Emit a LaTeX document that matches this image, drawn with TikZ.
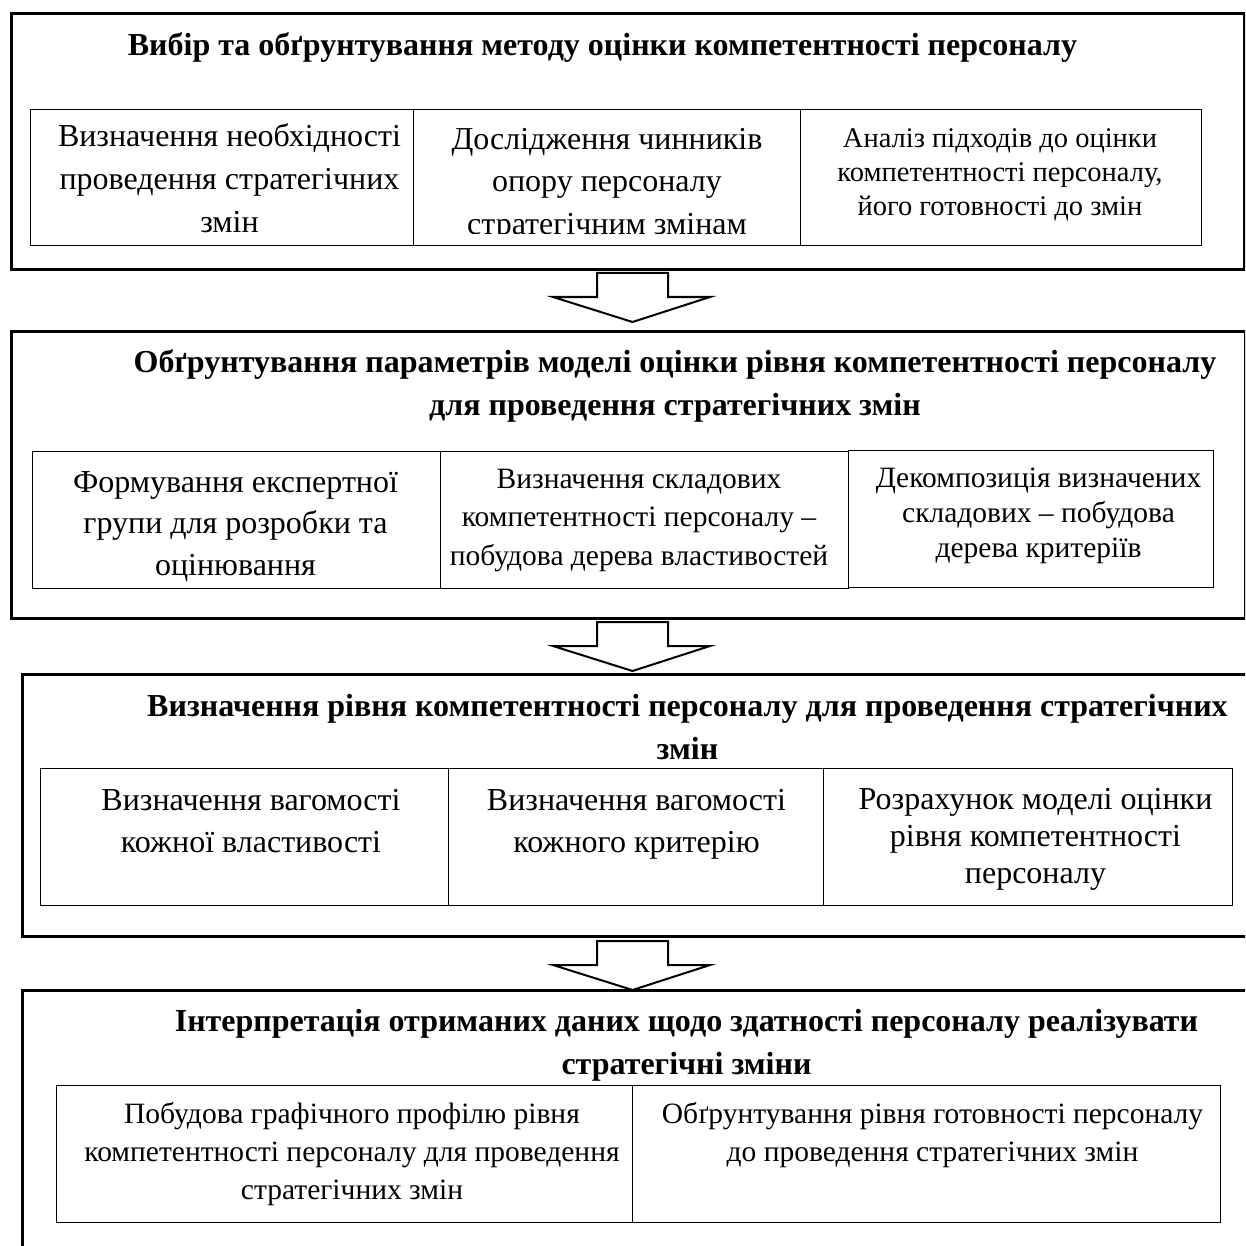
\documentclass[tikz,border=0pt]{standalone}
\usepackage{fontspec}
\setmainfont{Liberation Serif}
\begin{document}
\begin{tikzpicture}[x=1pt,y=-1pt,
  outerbox/.style={draw, line width=3.3pt, inner sep=0pt, anchor=north west},
  cellbox/.style={draw, line width=1.3pt, inner sep=0pt, anchor=north west},
  % text block whose first baseline sits at the given point
  ct/.style 2 args={anchor=north, inner sep=0pt, align=center,
    font=\fontsize{#1}{#2}\selectfont, yshift=0.7*#2pt},
  ht/.style={ct={32}{43}, font=\fontsize{32}{43}\selectfont\bfseries},
  blockarrow/.pic={
    \draw[line width=2pt, line join=miter, fill=white]
      (-35.5,0) -- (35.5,0) -- (35.5,24) -- (77.5,24) -- (0,49)
      -- (-79.5,24) -- (-35.5,24) -- cycle;
  }]
\useasboundingbox (0,0) rectangle (1245,1246);
\clip (0,0) rectangle (1245,1246);

% ---------- stage 1 ----------
\node[outerbox, minimum width=1233pt, minimum height=256pt] (s1) at (10,12) {};
\node[ht] (t1) at (602.5,55) {\strut Вибір та обґрунтування методу оцінки компетентності персоналу};
\node[cellbox, minimum width=383pt, minimum height=136pt] (c11) at (30,109) {};
\node[cellbox, minimum width=387pt, minimum height=136pt] (c12) at (413,109) {};
\node[cellbox, minimum width=401pt, minimum height=136pt] (c13) at (800,109) {};
\node[ct={32}{43}] (x11) at (229.5,146) {\strut Визначення необхідності\\проведення стратегічних\\змін};
\begin{scope}
  \clip (413,109) rectangle (800,234);
  \node[ct={32}{42.5}] (x12) at (607,149) {\strut Дослідження чинників\\опору персоналу\\стратегічним змінам};
\end{scope}
\node[ct={28.5}{34}] (x13) at (1000,147) {\strut Аналіз підходів до оцінки\\компетентності персоналу,\\його готовності до змін};

\pic (a1) at (632.5,273) {blockarrow};

% ---------- stage 2 ----------
\node[outerbox, minimum width=1234pt, minimum height=287pt] (s2) at (10,330) {};
\node[ht] (t2) at (675,372) {\strut Обґрунтування параметрів моделі оцінки рівня компетентності персоналу\\для проведення стратегічних змін};
\node[cellbox, minimum width=408pt, minimum height=137pt] (c21) at (32,451) {};
\node[cellbox, minimum width=408pt, minimum height=137pt] (c22) at (440,451) {};
\node[cellbox, minimum width=365pt, minimum height=137pt] (c23) at (848,450) {};
\node[ct={32}{41.5}] (x21) at (235.5,492) {\strut Формування експертної\\групи для розробки та\\оцінювання};
\node[ct={29.5}{38.5}] (x22) at (639,488) {\strut Визначення складових\\компетентності персоналу –\\побудова дерева властивостей};
\node[ct={29.5}{35}] (x23) at (1038.5,487) {\strut Декомпозиція визначених\\складових – побудова\\дерева критеріїв};

\pic (a2) at (632.5,622) {blockarrow};

% ---------- stage 3 ----------
\node[outerbox, minimum width=1240pt, minimum height=262pt] (s3) at (21,673) {};
\node[ht] (t3) at (687.5,716) {\strut Визначення рівня компетентності персоналу для проведення стратегічних\\змін};
\node[cellbox, minimum width=408pt, minimum height=137pt] (c31) at (40,768) {};
\node[cellbox, minimum width=375pt, minimum height=137pt] (c32) at (448,768) {};
\node[cellbox, minimum width=409pt, minimum height=137pt] (c33) at (823,768) {};
\node[ct={32}{42}] (x31) at (251,810) {\strut Визначення вагомості\\кожної властивості};
\node[ct={32}{42}] (x32) at (636.5,810) {\strut Визначення вагомості\\кожного критерію};
\node[ct={32}{37}] (x33) at (1035.5,809) {\strut Розрахунок моделі оцінки\\рівня компетентності\\персоналу};

\pic (a3) at (632.5,941) {blockarrow};

% ---------- stage 4 ----------
\node[outerbox, minimum width=1240pt, minimum height=300pt] (s4) at (21,989) {};
\node[ht] (t4) at (686.5,1031) {\strut Інтерпретація отриманих даних щодо здатності персоналу реалізувати\\стратегічні зміни};
\node[cellbox, minimum width=576pt, minimum height=137pt] (c41) at (56,1085) {};
\node[cellbox, minimum width=588pt, minimum height=137pt] (c42) at (632,1085) {};
\node[ct={29.5}{38}] (x41) at (352,1123) {\strut Побудова графічного профілю рівня\\компетентності персоналу для проведення\\стратегічних змін};
\node[ct={29.5}{38}] (x42) at (932.5,1123) {\strut Обґрунтування рівня готовності персоналу\\до проведення стратегічних змін};
\end{tikzpicture}
\end{document}
